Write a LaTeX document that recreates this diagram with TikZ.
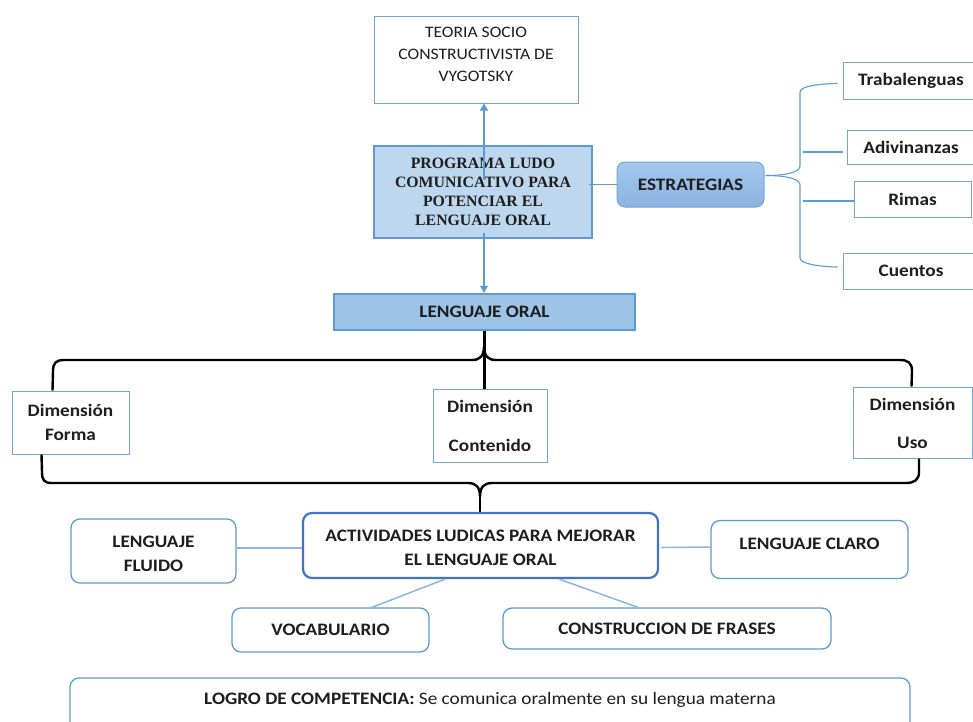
\documentclass[tikz,border=0pt]{standalone}
\usepackage{fontspec}
\setmainfont[FakeStretch=1.1]{Carlito}
\newfontfamily\timesf{Liberation Serif}
\usetikzlibrary{calc,arrows.meta}
\definecolor{bl}{HTML}{5B9BD5}
\definecolor{blthin}{HTML}{6FA6DB}
\definecolor{blfill}{HTML}{BDD7EE}
\definecolor{blmid}{HTML}{9DC3E6}
\definecolor{bltop}{HTML}{A6C8EC}
\definecolor{blbot}{HTML}{8AB3E0}
\definecolor{bldark}{HTML}{4472C4}
\definecolor{blline2}{HTML}{8DB4E2}
\definecolor{txt}{HTML}{1E1E1E}
\newcommand\liftup[2]{\raisebox{#1}[\height][\depth]{\begin{tabular}{@{}c@{}}#2\end{tabular}}}
\begin{document}
\begin{tikzpicture}[x=1pt,y=-1pt,
  thinbox/.style={draw=blthin, line width=1pt, fill=white, text=txt, inner sep=0pt, align=center},
  lbl/.style={font=\bfseries\fontsize{17.5}{21}\selectfont},
  heavybox/.style={draw=bl, line width=2.4pt, inner sep=0pt, align=center, text=txt},
  roundbox/.style={draw=bl, line width=1.3pt, rounded corners=9pt, fill=white, text=txt, inner sep=0pt, align=center, font=\bfseries\fontsize{17.5}{24}\selectfont},
  blline/.style={draw=bl, line width=1.1pt},
  softline/.style={draw=blline2, line width=1.5pt},
  brace/.style={draw=black, line width=2.4pt},
  tip/.style={-{Triangle[length=7pt,width=8pt]}}
]
\useasboundingbox (0,0) rectangle (973,721);
% top
\node[thinbox, minimum width=204pt, minimum height=87pt, font=\fontsize{16}{22}\selectfont] (teoria) at (476,59.5)
  {\liftup{4pt}{TEORIA SOCIO\\CONSTRUCTIVISTA DE\\VYGOTSKY}};
\node[heavybox, fill=blfill, minimum width=218pt, minimum height=92pt, font=\timesf\bfseries\fontsize{15.8}{19}\selectfont] (prog) at (483,192)
  {PROGRAMA LUDO\\COMUNICATIVO PARA\\POTENCIAR EL\\LENGUAJE ORAL};
\node[draw=blthin, line width=1pt, rounded corners=8pt, top color=bltop, bottom color=blbot, minimum width=147pt, minimum height=45pt, inner sep=0pt, text=txt, font=\bfseries\fontsize{17.5}{21}\selectfont] (estr) at (690.5,184.5) {ESTRATEGIAS};
% strategies
\node[thinbox, lbl, minimum width=136pt, minimum height=37pt] (trab) at (911,80.5) {Trabalenguas};
\node[thinbox, lbl, minimum width=128pt, minimum height=34pt] (adiv) at (911,147) {Adivinanzas};
\node[thinbox, lbl, minimum width=117pt, minimum height=36pt] (rimas) at (912.5,199) {Rimas};
\node[thinbox, lbl, minimum width=136pt, minimum height=36pt] (cuentos) at (911,271) {Cuentos};
% lenguaje oral
\node[heavybox, fill=blmid, lbl, minimum width=301pt, minimum height=36pt] (lo) at (484.5,312) {LENGUAJE ORAL};
% dimensions
\node[thinbox, lbl, minimum width=117pt, minimum height=63pt] (dforma) at (70.5,422.5) {Dimensión\\[3pt]Forma};
\node[thinbox, lbl, minimum width=114pt, minimum height=73pt] (dcont) at (490,425.5) {Dimensión\\[18pt]Contenido};
\node[thinbox, lbl, minimum width=119pt, minimum height=71pt] (duso) at (912.5,422.5) {\liftup{-3pt}{Dimensión\\[17pt]Uso}};
% activities
\node[roundbox, draw=bldark, line width=2.2pt, minimum width=355pt, minimum height=65pt] (act) at (480.5,545.5) {\liftup{-3pt}{ACTIVIDADES LUDICAS PARA MEJORAR\\EL LENGUAJE ORAL}};
\node[roundbox, minimum width=165pt, minimum height=64pt] (lf) at (153.5,551) {\liftup{-4pt}{LENGUAJE\\FLUIDO}};
\node[roundbox, minimum width=197pt, minimum height=58pt] (lc) at (809.5,549.5) {\liftup{5pt}{LENGUAJE CLARO}};
\node[roundbox, minimum width=197pt, minimum height=44pt] (voc) at (330.5,630) {VOCABULARIO};
\node[roundbox, minimum width=328pt, minimum height=41pt] (cons) at (667,628.5) {CONSTRUCCION DE FRASES};
\node[roundbox, minimum width=840pt, minimum height=62pt, font=\fontsize{17.5}{24}\selectfont] (logro) at (490,709)
  {\liftup{9pt}{\textbf{LOGRO DE COMPETENCIA:} Se comunica oralmente en su lengua materna}};
% connectors top
\draw[blline, tip] ($(prog.center)+(1,-12)$) -- ($(prog.center |- teoria.south)+(1,0)$);
\draw[blline, tip] ($(prog.south)+(1,-6)$) -- ($(prog.center |- lo.north)+(1,0)$);
\draw[blline] ($(prog.east |- estr.west)+(-4,0)$) -- (estr.west);
\coordinate (fork) at ($(estr.east)+(1,-9)$);
\coordinate (spinetop) at (800,166);
\coordinate (spinebot) at (800,185);
\draw[blline] (fork) .. controls +(25,0) and +(0,5) .. (spinetop) -- (800,92) .. controls +(0,-7) and +(-10,0) .. ($(trab.west)+(-5,3)$);
\draw[blline] (fork) .. controls +(25,0) and +(0,-5) .. (spinebot) -- (800,258) .. controls +(0,7) and +(-10,0) .. ($(cuentos.west)+(-5,-4)$);
\coordinate (sa) at (803,152);
\coordinate (sr) at (803,201);
\draw[blline] (sa) -- ($(adiv.west)+(-4,5)$);
\draw[blline] (sr) -- ($(rimas.west)+(0,2)$);
% braces
\coordinate (btip) at (484,346);
\draw[brace] ($(dforma.north west)+(41,0)$) -- (53,371) .. controls (53,363) and (56,360) .. (64,360) -- (472,360)
  .. controls (480,360) and (484,356) .. (btip) .. controls (484,356) and (488,360) .. (496,360) -- (900,360)
  .. controls (908,360) and (912,363) .. (912,371) -- ($(duso.north west)+(59,0)$);
\draw[brace] (lo.south) -- (lo.south |- dcont.north);
\coordinate (bbot) at (480,497);
\draw[brace] ($(dforma.south west)+(30,0)$) -- (42,472) .. controls (42,480) and (44,483) .. (52,483) -- (468,483)
  .. controls (476,483) and (480,487) .. (bbot) .. controls (480,487) and (484,483) .. (492,483) -- (906,483)
  .. controls (914,483) and (919,480) .. (919,472) -- ($(duso.south west)+(66.5,0)$);
\draw[brace] (bbot) -- (act.north -| bbot);
% connectors bottom
\draw[softline] ($(lf.east)+(0,-3)$) -- ($(act.west)+(0,2.5)$);
\draw[softline] ($(act.east)+(2,2)$) -- ($(lc.west)+(0,-2.5)$);
\draw[softline] ($(act.south)+(-35.5,0)$) -- ($(voc.north)+(41.5,0)$);
\draw[softline] ($(act.south)+(78.5,0)$) -- ($(cons.north)+(-29,0)$);
\end{tikzpicture}
\end{document}
